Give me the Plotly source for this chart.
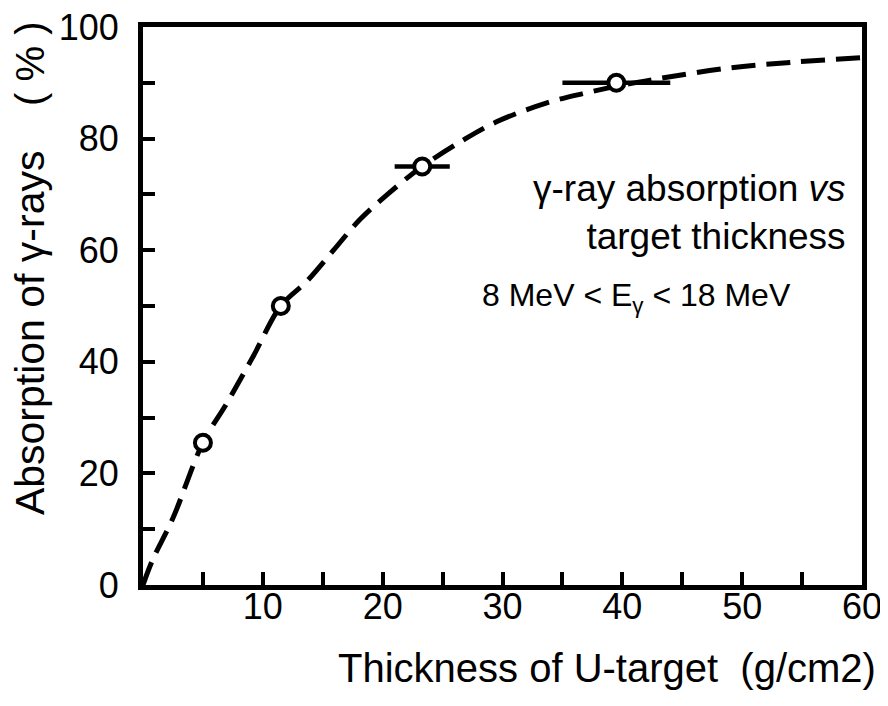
import plotly.graph_objects as go

# measured points
pt_x = [5, 11.5, 23.3, 39.5]
pt_y = [25.5, 50, 75, 90]
pt_xerr = [0, 0, 2.3, 4.5]

# dashed curve
curve_x = [0, 0.8, 2.5, 5, 7, 9.2, 11.5, 13.7, 15.9, 18.1, 20.4, 23.3, 26.7,
           29.5, 33.7, 37, 40, 43.2, 48.7, 54.3, 60]
curve_y = [0, 4.5, 12, 25.5, 32.6, 41, 50, 54.5, 60, 65.5, 70, 75, 79.7,
           83, 86.4, 88.2, 89.6, 90.8, 92.6, 93.7, 94.5]

x_tickvals = [5, 10, 15, 20, 25, 30, 35, 40, 45, 50, 55, 60]
x_ticktext = ["", "10", "", "20", "", "30", "", "40", "", "50", "", "60"]
y_tickvals = [0, 10, 20, 30, 40, 50, 60, 70, 80, 90, 100]
y_ticktext = ["0", "", "20", "", "40", "", "60", "", "80", "", "100"]

FONT = "Liberation Sans, Arial, sans-serif"

fig = go.Figure()
fig.add_trace(go.Scatter(
    x=curve_x, y=curve_y, mode="lines", line_shape="spline",
    line=dict(color="black", width=5, dash="24px,11px"),
    hoverinfo="skip", showlegend=False))
fig.add_trace(go.Scatter(
    x=pt_x, y=pt_y, mode="markers",
    error_x=dict(type="data", array=pt_xerr, visible=True, color="black",
                 thickness=4.5, width=0),
    marker=dict(symbol="circle", size=16, color="white",
                line=dict(color="black", width=4)),
    showlegend=False))

fig.update_layout(
    width=880, height=690,
    margin=dict(l=135, r=26, t=19, b=113, autoexpand=False),
    paper_bgcolor="white", plot_bgcolor="white",
    font=dict(family=FONT, color="black", size=36),
    xaxis=dict(range=[0, 60], showgrid=False, zeroline=False,
               showline=True, linecolor="black", linewidth=5, mirror=True,
               ticks="inside", ticklen=13, tickwidth=4, tickcolor="black",
               tickvals=x_tickvals, ticktext=x_ticktext,
               tickfont=dict(size=36), ticklabelstandoff=-14,
               ticklabeloverflow="allow", automargin=False),
    yaxis=dict(range=[0, 100], showgrid=False, zeroline=False,
               showline=True, linecolor="black", linewidth=5, mirror=True,
               ticks="inside", ticklen=12, tickwidth=4, tickcolor="black",
               tickvals=y_tickvals, ticktext=y_ticktext,
               tickfont=dict(size=36), ticklabelstandoff=12,
               ticklabeloverflow="allow", automargin=False),
    annotations=[
        dict(text="Thickness of U-target  (g/cm2)", xref="paper", yref="paper",
             x=1.022, y=-0.149, xanchor="right", yanchor="middle",
             showarrow=False, font=dict(size=40)),
        dict(text="Absorption of γ-rays", xref="paper", yref="paper",
             x=-0.157, y=0.4516, xanchor="center", yanchor="middle",
             textangle=-90, showarrow=False, font=dict(size=41)),
        dict(text="( % )", xref="paper", yref="paper",
             x=-0.157, y=0.934, xanchor="center", yanchor="middle",
             textangle=-90, showarrow=False, font=dict(size=40)),
        dict(text="γ-ray absorption <i>vs</i><br>target thickness",
             xref="paper", yref="paper", align="right",
             x=0.98, y=0.668, xanchor="right", yanchor="middle",
             showarrow=False, font=dict(size=37)),
        dict(text="8 MeV < E<sub>γ</sub> < 18 MeV", xref="paper", yref="paper",
             x=0.687, y=0.516, xanchor="center", yanchor="middle",
             showarrow=False, font=dict(size=32)),
    ],
)

fig.write_html("out.html")
